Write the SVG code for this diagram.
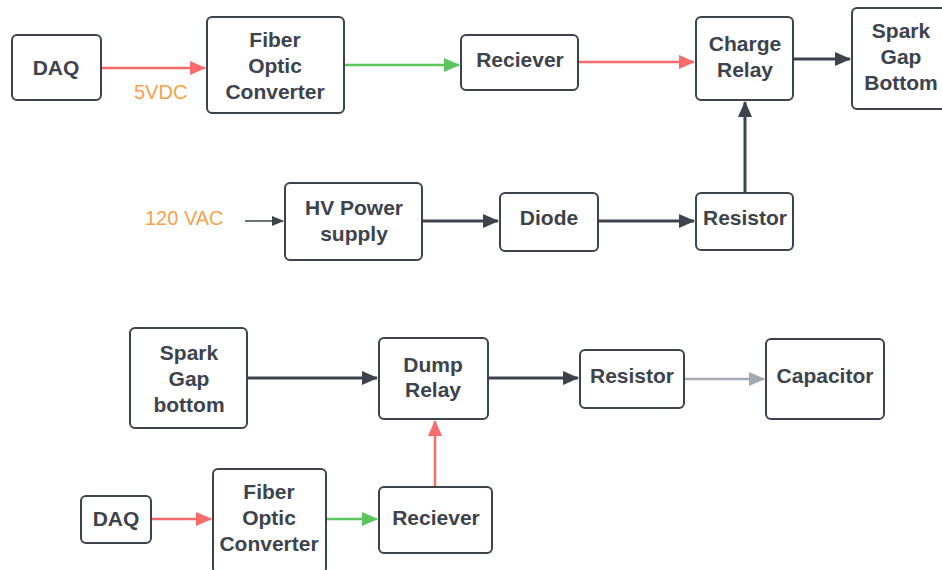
<svg xmlns="http://www.w3.org/2000/svg" width="942" height="570" viewBox="0 0 942 570">
  <defs>
    <style>
      .box { fill: #ffffff; stroke: #3d434c; stroke-width: 2; }
      .lbl { font-family: "Liberation Sans", Arial, sans-serif; font-weight: bold; font-size: 21px; fill: #3d434c; text-anchor: middle; }
      .note { font-family: "Liberation Sans", Arial, sans-serif; font-size: 20px; fill: #f7a24d; }
      .c-red { stroke: #f76b6b; stroke-width: 2.5; fill: none; }
      .c-green { stroke: #5cc45c; stroke-width: 2.5; fill: none; }
      .c-dark { stroke: #3d434c; stroke-width: 3; fill: none; }
      .c-thin { stroke: #3d434c; stroke-width: 1.6; fill: none; }
      .c-gray { stroke: #a2a9b2; stroke-width: 2.5; fill: none; }
    </style>
    <marker id="ah-red" markerUnits="userSpaceOnUse" markerWidth="16" markerHeight="14" refX="15" refY="7" orient="auto">
      <path d="M0,0 L16,7 L0,14 Z" fill="#f76b6b"/>
    </marker>
    <marker id="ah-green" markerUnits="userSpaceOnUse" markerWidth="16" markerHeight="14" refX="15" refY="7" orient="auto">
      <path d="M0,0 L16,7 L0,14 Z" fill="#5cc45c"/>
    </marker>
    <marker id="ah-dark" markerUnits="userSpaceOnUse" markerWidth="16" markerHeight="14" refX="15" refY="7" orient="auto">
      <path d="M0,0 L16,7 L0,14 Z" fill="#3d434c"/>
    </marker>
    <marker id="ah-small" markerUnits="userSpaceOnUse" markerWidth="12" markerHeight="10" refX="11" refY="5" orient="auto">
      <path d="M0,0 L12,5 L0,10 Z" fill="#3d434c"/>
    </marker>
    <marker id="ah-gray" markerUnits="userSpaceOnUse" markerWidth="16" markerHeight="14" refX="15" refY="7" orient="auto">
      <path d="M0,0 L16,7 L0,14 Z" fill="#a2a9b2"/>
    </marker>
  </defs>

  <rect width="942" height="570" fill="#ffffff"/>

  <!-- connectors -->
  <g id="connectors">
    <line class="c-red" x1="101" y1="68" x2="205" y2="68" marker-end="url(#ah-red)"/>
    <line class="c-green" x1="344" y1="65" x2="459" y2="65" marker-end="url(#ah-green)"/>
    <line class="c-red" x1="578" y1="62" x2="694" y2="62" marker-end="url(#ah-red)"/>
    <line class="c-dark" x1="793" y1="59" x2="850" y2="59" marker-end="url(#ah-dark)"/>
    <line class="c-dark" x1="745" y1="192" x2="745" y2="102" marker-end="url(#ah-dark)"/>
    <line class="c-thin" x1="245" y1="221" x2="283" y2="221" marker-end="url(#ah-small)"/>
    <line class="c-dark" x1="422" y1="221" x2="498" y2="221" marker-end="url(#ah-dark)"/>
    <line class="c-dark" x1="598" y1="221" x2="694" y2="221" marker-end="url(#ah-dark)"/>
    <line class="c-dark" x1="247" y1="378" x2="377" y2="378" marker-end="url(#ah-dark)"/>
    <line class="c-dark" x1="488" y1="378" x2="578" y2="378" marker-end="url(#ah-dark)"/>
    <line class="c-gray" x1="684" y1="379" x2="764" y2="379" marker-end="url(#ah-gray)"/>
    <line class="c-red" x1="435" y1="487" x2="435" y2="421" marker-end="url(#ah-red)"/>
    <line class="c-red" x1="151" y1="519" x2="211" y2="519" marker-end="url(#ah-red)"/>
    <line class="c-green" x1="326" y1="519" x2="377" y2="519" marker-end="url(#ah-green)"/>
  </g>

  <!-- connector notes -->
  <text class="note" x="134" y="99">5VDC</text>
  <text class="note" x="145" y="225">120 VAC</text>

  <!-- top chain -->
  <g id="daq-top">
    <rect class="box" x="12" y="35" width="89" height="65" rx="5"/>
    <text class="lbl" x="56" y="75">DAQ</text>
  </g>
  <g id="fiber-top">
    <rect class="box" x="207" y="17" width="137" height="96" rx="5"/>
    <text class="lbl" x="275" y="47">Fiber</text>
    <text class="lbl" x="275" y="73">Optic</text>
    <text class="lbl" x="275" y="99">Converter</text>
  </g>
  <g id="receiver-top">
    <rect class="box" x="461" y="35" width="117" height="55" rx="5"/>
    <text class="lbl" x="520" y="67">Reciever</text>
  </g>
  <g id="charge-relay">
    <rect class="box" x="696" y="17" width="97" height="83" rx="5"/>
    <text class="lbl" x="745" y="51">Charge</text>
    <text class="lbl" x="745" y="77">Relay</text>
  </g>
  <g id="spark-gap-top">
    <rect class="box" x="852" y="8" width="100" height="101" rx="5"/>
    <text class="lbl" x="901" y="38">Spark</text>
    <text class="lbl" x="901" y="64">Gap</text>
    <text class="lbl" x="901" y="90">Bottom</text>
  </g>

  <!-- HV chain -->
  <g id="hv-supply">
    <rect class="box" x="285" y="183" width="137" height="77" rx="5"/>
    <text class="lbl" x="354" y="215">HV Power</text>
    <text class="lbl" x="354" y="241">supply</text>
  </g>
  <g id="diode">
    <rect class="box" x="500" y="193" width="98" height="58" rx="5"/>
    <text class="lbl" x="549" y="225">Diode</text>
  </g>
  <g id="resistor-top">
    <rect class="box" x="696" y="193" width="97" height="57" rx="5"/>
    <text class="lbl" x="745" y="225">Resistor</text>
  </g>

  <!-- dump chain -->
  <g id="spark-gap-bottom">
    <rect class="box" x="130" y="328" width="117" height="100" rx="5"/>
    <text class="lbl" x="189" y="360">Spark</text>
    <text class="lbl" x="189" y="386">Gap</text>
    <text class="lbl" x="189" y="412">bottom</text>
  </g>
  <g id="dump-relay">
    <rect class="box" x="379" y="338" width="109" height="81" rx="5"/>
    <text class="lbl" x="433" y="372">Dump</text>
    <text class="lbl" x="433" y="397">Relay</text>
  </g>
  <g id="resistor-bottom">
    <rect class="box" x="580" y="350" width="104" height="58" rx="5"/>
    <text class="lbl" x="632" y="383">Resistor</text>
  </g>
  <g id="capacitor">
    <rect class="box" x="766" y="339" width="118" height="80" rx="5"/>
    <text class="lbl" x="825" y="383">Capacitor</text>
  </g>
  <g id="daq-bottom">
    <rect class="box" x="81" y="496" width="70" height="47" rx="5"/>
    <text class="lbl" x="116" y="526">DAQ</text>
  </g>
  <g id="fiber-bottom">
    <rect class="box" x="213" y="469" width="113" height="104" rx="5"/>
    <text class="lbl" x="269" y="499">Fiber</text>
    <text class="lbl" x="269" y="525">Optic</text>
    <text class="lbl" x="269" y="551">Converter</text>
  </g>
  <g id="receiver-bottom">
    <rect class="box" x="379" y="487" width="113" height="66" rx="5"/>
    <text class="lbl" x="436" y="525">Reciever</text>
  </g>
</svg>
